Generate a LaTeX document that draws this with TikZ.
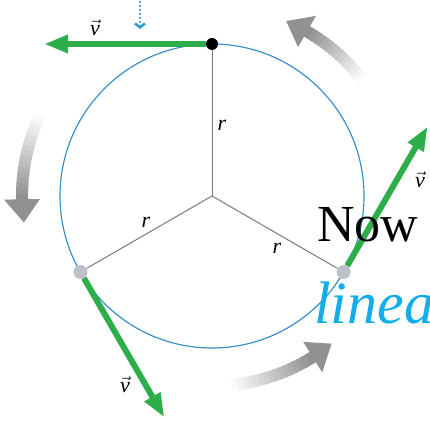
\documentclass[tikz,border=0pt]{standalone}
\usepackage{fontspec}
\setmainfont{Liberation Serif}
\usetikzlibrary{positioning,arrows.meta}
\definecolor{cV}{HTML}{2EAD4B}
\definecolor{cC}{HTML}{3B8FCB}
\definecolor{cR}{HTML}{7A7A7A}
\definecolor{cD}{HTML}{BFBFC7}
\definecolor{cL}{HTML}{12AEEA}
\definecolor{cT}{HTML}{3399D6}
% shaded turning arrow: start angle, end of shaft, tip angle
\newcommand{\turnarrow}[3]{%
  \foreach \k in {0,...,15}{%
    \pgfmathsetmacro{\sa}{#1+(#2-#1)*\k/16}%
    \pgfmathsetmacro{\ea}{#1+(#2-#1)*(\k+1.3)/16}%
    \pgfmathsetmacro{\sh}{2+41*\k/15}%
    \draw[line width=12pt,draw=black!\sh] ([shift={(\sa:190)}]c) arc[start angle=\sa,end angle=\ea,radius=190];}
  \fill[black!43] ([shift={(#2:172)}]c) -- ([shift={(#2:208)}]c) -- ([shift={(#3:190)}]c) -- cycle;}

\begin{document}
\begin{tikzpicture}[x=1pt,y=1pt,
  vel/.style={cV,line width=6pt,-{Triangle[length=24pt,width=17pt]}},
  rad/.style={cR,line width=1pt},
  lab/.style={inner sep=1pt,font=\fontsize{22}{26}\selectfont},
  big/.style={anchor=base west,inner sep=0pt}]
\useasboundingbox (0,0) rectangle (430,420);
\clip (0,0) rectangle (430,420);
\coordinate (c) at (212,224);
% --- turning arrows ---
\turnarrow{38}{60}{67}
\turnarrow{155}{181}{188}
\turnarrow{-84}{-58}{-51}
% --- path and radii ---
\draw[cC,line width=1.2pt] (c) circle[radius=152];
\node[circle,fill=black,inner sep=0pt,minimum size=12pt] (ptop) at ([shift={(90:152)}]c) {};
\node[circle,fill=cD,inner sep=0pt,minimum size=14pt] (pleft) at ([shift={(210:152)}]c) {};
\node[circle,fill=cD,inner sep=0pt,minimum size=14pt] (pright) at ([shift={(330:152)}]c) {};
\draw[rad] (c) -- (ptop);
\draw[rad] (c) -- (pleft);
\draw[rad] (c) -- (pright);
\node[lab] (rtop) at (222,295) {\textit{r}};
\node[lab] (rleft) at (146,198) {\textit{r}};
\node[lab] (rright) at (277,172) {\textit{r}};
% --- velocities ---
\coordinate (vtop) at ([shift={(180:168)}]ptop.center);
\coordinate (vleft) at ([shift={(-60:168)}]pleft.center);
\coordinate (vright) at ([shift={(60:168)}]pright.center);
\draw[vel] (ptop) -- (vtop);
\draw[vel] (pleft) -- (vleft);
\draw[vel] (pright) -- (vright);
\node[lab] (vltop) at (95,392) {$\vec{\mathit{v}}$};
\node[lab] (vlleft) at (125,35) {$\vec{\mathit{v}}$};
\node[lab] (vlright) at (420,240) {$\vec{\mathit{v}}$};
% --- drop marker ---
\coordinate (drop) at (140,422);
\coordinate (dropend) at (140,391);
\draw[cT,line width=2.5pt,line cap=round,dash pattern=on 0pt off 4pt,-{Straight Barb[length=4pt,width=10pt,line width=2.5pt]}] (drop) -- (dropend);
% --- slide text ---
\node[big,font=\fontsize{52}{60}\selectfont] (now) at (317,178) {Now};
\node[big,cL,font=\fontsize{60}{70}\selectfont] (linea) at (314,97) {\textit{linea}};
\end{tikzpicture}
\end{document}
